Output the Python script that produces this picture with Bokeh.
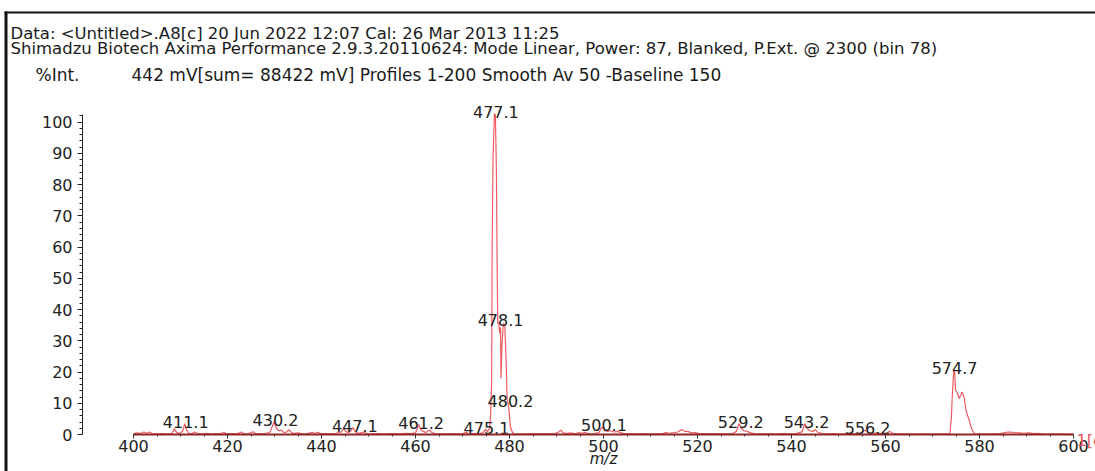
from bokeh.plotting import figure
from bokeh.models import Range1d, SingleIntervalTicker, Label, ColumnDataSource, BoxAnnotation
from bokeh.core.properties import value
from bokeh.embed import file_html
from bokeh.resources import INLINE

# ---------------- data ----------------
mz = [400.0, 400.8, 401.5, 402.2, 402.8, 403.4, 404.0, 405.0, 406.0, 407.0,
      408.2, 408.7, 409.2, 409.8, 410.5, 410.9, 411.3, 411.8, 412.5, 413.0,
      413.6, 414.5, 415.5, 416.5, 417.5, 418.5, 419.2, 419.8, 421.0, 422.0,
      423.0, 423.5, 424.5, 425.5, 426.0, 427.0, 428.0, 429.0, 429.5, 429.9,
      430.4, 430.9, 431.5, 432.0, 432.6, 433.0, 433.5, 434.0, 435.0, 436.0,
      437.0, 438.0, 438.6, 439.2, 440.0, 441.0, 442.0, 443.0, 444.2, 444.7,
      445.2, 445.8, 446.3, 446.7, 447.2, 447.8, 448.5, 449.0, 449.5, 450.5,
      452.0, 453.5, 455.0, 456.5, 458.0, 459.0, 460.0, 460.4, 460.7, 461.1,
      461.6, 462.2, 462.7, 463.0, 463.5, 464.2, 465.5, 467.0, 468.5, 470.0,
      470.8, 471.3, 472.5, 473.5, 474.3, 474.9, 475.3, 475.6, 475.8, 476.0,
      476.2, 476.3, 476.5, 476.8, 477.0, 477.2, 477.4, 477.5, 477.7, 477.9,
      478.1, 478.2, 478.4, 478.7, 479.0, 479.3, 479.5, 479.7, 479.9, 480.2,
      480.6, 481.0, 482.0, 483.0, 484.0, 485.0, 486.0, 487.0, 488.5, 489.5,
      490.3, 490.9, 491.4, 492.2, 493.0, 494.0, 494.8, 495.5, 496.0, 496.8,
      498.0, 499.0, 499.7, 500.2, 500.8, 501.5, 502.2, 503.0, 503.8, 504.5,
      505.5, 507.0, 508.5, 510.0, 511.5, 512.5, 513.2, 514.0, 515.0, 515.8,
      516.7, 517.3, 518.0, 518.8, 519.6, 520.5, 521.5, 523.0, 524.5, 526.0,
      527.5, 528.3, 528.8, 529.3, 529.9, 530.5, 531.2, 532.0, 533.5, 535.0,
      536.5, 538.0, 539.5, 541.0, 542.3, 542.8, 543.3, 543.9, 544.5, 545.1,
      545.7, 546.5, 547.5, 549.0, 550.5, 552.0, 553.5, 554.8, 555.7, 556.3,
      557.2, 558.0, 559.0, 560.2, 560.9, 561.5, 562.5, 564.0, 566.0, 568.0,
      570.0, 572.0, 573.0, 573.7, 574.0, 574.2, 574.5, 574.7, 574.9, 575.2,
      575.7, 576.3, 576.7, 577.2, 577.7, 578.2, 578.6, 579.1, 580.0, 581.5,
      583.0, 584.5, 585.5, 586.5, 587.5, 588.5, 589.5, 590.5, 591.5, 592.5,
      593.5, 595.0, 597.0, 599.0, 600.0]
intensity = [0.2, 0.5, 0.3, 0.8, 0.4, 0.8, 0.3, 0.2, 0.3, 0.1,
             0.4, 1.9, 0.6, 0.3, 1.2, 3.5, 1.4, 0.4, 0.3, 0.8,
             0.3, 0.2, 0.4, 0.1, 0.3, 0.2, 0.7, 0.2, 0.3, 0.2,
             0.8, 0.2, 0.3, 0.9, 0.2, 0.3, 0.4, 0.6, 2.5, 4.0,
             2.0, 1.2, 1.4, 0.6, 0.8, 1.5, 0.8, 0.3, 0.5, 0.2,
             0.3, 0.7, 0.3, 0.7, 0.2, 0.3, 0.2, 0.4, 0.8, 1.9,
             0.9, 0.6, 1.3, 2.2, 0.9, 0.3, 0.6, 0.8, 0.3, 0.2,
             0.3, 0.1, 0.3, 0.2, 0.4, 0.3, 0.5, 2.0, 3.2, 1.6,
             1.0, 0.6, 1.2, 1.4, 0.6, 0.3, 0.2, 0.3, 0.2, 0.3,
             0.7, 0.2, 0.3, 0.2, 0.5, 1.6, 0.9, 1.4, 2.4, 6.7,
             17.4, 58.0, 88.8, 102.7, 102.2, 85.6, 49.4, 35.5, 35.9, 32.4,
             34.3, 18.0, 28.6, 35.6, 35.0, 22.8, 10.9, 9.9, 7.8, 2.4,
             0.8, 0.1, 0.2, 0.1, 0.3, 0.2, 0.3, 0.2, 0.3, 0.2,
             0.6, 1.4, 0.5, 0.3, 0.5, 0.2, 0.6, 0.4, 0.7, 0.2,
             0.3, 0.6, 2.4, 1.3, 1.0, 1.2, 0.8, 1.0, 0.5, 0.2,
             0.3, 0.2, 0.3, 0.1, 0.3, 0.2, 0.6, 0.4, 0.6, 0.8,
             1.6, 1.0, 0.9, 0.5, 0.6, 0.2, 0.3, 0.2, 0.3, 0.2,
             0.3, 1.0, 3.5, 2.0, 1.2, 1.0, 0.6, 0.3, 0.2, 0.3,
             0.1, 0.3, 0.2, 0.3, 0.9, 3.5, 2.0, 1.2, 1.0, 1.5,
             0.6, 0.4, 0.2, 0.3, 0.1, 0.3, 0.2, 0.4, 1.4, 0.6,
             0.4, 0.5, 0.3, 0.4, 1.0, 0.4, 0.2, 0.2, 0.1, 0.2,
             0.1, 0.2, 0.2, 0.3, 5.0, 12.0, 20.0, 20.6, 14.2, 13.6,
             11.5, 13.6, 12.0, 7.2, 5.1, 2.4, 1.0, 0.1, 0.2, 0.1,
             0.2, 0.3, 0.7, 0.8, 0.6, 0.5, 0.4, 0.5, 0.3, 0.4,
             0.2, 0.1, 0.2, 0.1, 0.1]

peak_mz = [411.1, 430.2, 447.1, 461.2, 475.1, 477.1, 478.1, 480.2,
           500.1, 529.2, 543.2, 556.2, 574.7]
peak_int = [3.5, 4.0, 2.2, 3.2, 1.6, 102.7, 35.9, 10.2,
            2.4, 3.5, 3.5, 1.4, 20.6]
peak_text = ["411.1", "430.2", "447.1", "461.2", "475.1", "477.1", "478.1",
             "480.2", "500.1", "529.2", "543.2", "556.2", "574.7"]

header_1 = "Data: <Untitled>.A8[c] 20 Jun 2022 12:07 Cal: 26 Mar 2013 11:25"
header_2 = ("Shimadzu Biotech Axima Performance 2.9.3.20110624: Mode Linear, "
            "Power: 87, Blanked, P.Ext. @ 2300 (bin 78)")
y_title = "%Int."
header_3 = "442 mV[sum= 88422 mV]  Profiles 1-200 Smooth Av 50 -Baseline 150"
x_title = "m/z"
trace_tag = "1[c]"

# ---------------- layout helpers (page pixels -> data) ----------------
W, H = 1095, 471
X0, XS = 133.0, 4.7       # page px of m/z 400, px per unit
Y0, YS = 434.0, 3.125     # page px of 0 %, px per unit


def dx(px):
    return 400 + (px - X0) / XS


def dy(py):
    return (Y0 - py) / YS


FONT = "DejaVu Sans"
SPEC = "#EF5B62"
INK = "#1a1a1a"

p = figure(width=W, height=H, title=None,
           x_range=Range1d(dx(0), dx(W)), y_range=Range1d(dy(H), dy(0)),
           output_backend="svg", toolbar_location=None,
           min_border_left=0, min_border_right=0, min_border_top=0,
           min_border_bottom=0)
p.grid.visible = False
p.outline_line_color = None

# outer frame (left and top edges of the printed page box)
p.add_layout(BoxAnnotation(left=dx(4), right=dx(7), top=dy(11), bottom=dy(H + 5),
                           fill_color="#111", fill_alpha=1, line_color=None))
p.add_layout(BoxAnnotation(left=dx(4), right=dx(W + 5), top=dy(11), bottom=dy(13),
                           fill_color="#111", fill_alpha=1, line_color=None))

src = ColumnDataSource(dict(mz=mz, inten=intensity))
p.line("mz", "inten", source=src, line_color=SPEC, line_width=1.2)

lab = ColumnDataSource(dict(x=peak_mz, y=peak_int, t=peak_text))
p.text("x", "y", text="t", source=lab, text_font=value(FONT),
       text_font_size="16px", text_color="#222", text_align="center",
       text_baseline="alphabetic", y_offset=-2)

xa = p.xaxis[0]
xa.fixed_location = 0
xa.ticker = SingleIntervalTicker(interval=20, num_minor_ticks=4)
xa.bounds = (400, 600)
xa.axis_line_color = "#8E2626"
xa.axis_line_width = 2
xa.major_tick_line_color = "#333"
xa.minor_tick_line_color = "#333"
xa.major_tick_out = 4
xa.major_tick_in = 0
xa.minor_tick_out = 2
xa.minor_tick_in = 0
xa.major_label_standoff = 1
xa.major_label_text_font = FONT
xa.major_label_text_font_size = "16px"
xa.major_label_text_color = "#222"

ya = p.yaxis[0]
ya.fixed_location = dx(82)
ya.ticker = SingleIntervalTicker(interval=10, num_minor_ticks=5)
ya.bounds = (0, 102.5)
ya.axis_line_color = "#222"
ya.major_tick_line_color = "#222"
ya.minor_tick_line_color = "#222"
ya.major_tick_out = 5
ya.major_tick_in = 0
ya.minor_tick_out = 3
ya.minor_tick_in = 0
ya.major_label_standoff = 5
ya.major_label_text_font = FONT
ya.major_label_text_font_size = "16px"
ya.major_label_text_color = "#222"


def add_label(text, px, py, size="16px", color=INK, align="left", style="normal"):
    p.add_layout(Label(x=dx(px), y=dy(py), text=text, text_font=FONT,
                       text_font_size=size, text_color=color, text_align=align,
                       text_baseline="middle", text_font_style=style))


add_label(header_1, 10, 32.5, size="16.5px")
add_label(header_2, 10, 47.5, size="16.5px")
add_label(y_title, 35, 74, size="17px")
add_label(header_3, 131, 74, size="17px")
add_label(x_title, 603, 458, size="15px", align="center", style="italic")
add_label(trace_tag, 1076, 440, color="#E8585C")

open("out.html", "w").write(file_html(p, INLINE))
